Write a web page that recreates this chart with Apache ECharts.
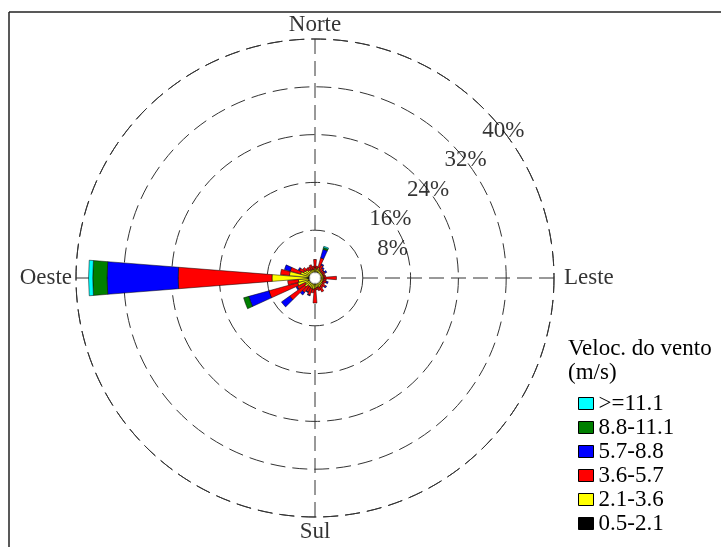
<!DOCTYPE html>
<html><head><meta charset="utf-8">
<script src="https://cdn.jsdelivr.net/npm/echarts@6/dist/echarts.min.js"></script>
<style>html,body{margin:0;padding:0;background:#fff}#c{width:721px;height:547px}</style>
</head><body><div id="c"></div>
<script>
// 36 wind directions (degrees, clockwise from north)
const directions = ['0','10','20','30','40','50','60','70','80','90','100','110','120','130','140','150','160','170',
  '180','190','200','210','220','230','240','250','260','270','280','290','300','310','320','330','340','350'];
// calm circle (%), drawn as hole at centre
const calm = [1,1,1,1,1,1,1,1,1,1,1,1,1,1,1,1,1,1,1,1,1,1,1,1,1,1,1,1,1,1,1,1,1,1,1,1];
// frequency (%) by speed class
const v05_21 = [0,0,0.1,0,0,0,0,0,0,0,0,0,0,0,0,0,0,0,0.1,0,0,0,0,0.1,0,0.2,0.1,0.3,0.1,0.1,0,0,0,0,0,0];
const v21_36 = [0.7,0.5,0.7,0.5,0.4,0.4,0.4,0.4,0.4,0.5,0.4,0.4,0.4,0.5,0.5,0.7,0.6,0.6,0.7,0.9,0.8,0.7,0.7,1.0,0.8,1.8,1.7,5.9,3.2,1.4,1.1,0.9,0.6,0.5,0.5,0.4];
const v36_57 = [1.4,0.5,1.7,0.9,0.6,0.4,0.5,0.3,0.4,2.1,0.5,0.6,0.4,0.7,0.5,0.9,0.6,0.4,2.4,0.6,1.2,0.9,1.3,3.1,1.5,5.0,1.8,15.7,1.5,1.8,0.8,0.6,0.5,0.6,0.8,0.6];
const v57_88 = [0,0,1.5,0.2,0.2,0.1,0.3,0,0,0,0,0.3,0,0.2,0,0,0,0,0,0,0.1,0.1,0.5,1.7,0.2,3.5,0,11.9,0,1.0,0.2,0,0,0,0,0];
const v88_111 = [0,0,0.3,0,0,0,0,0,0,0,0,0,0,0,0,0,0,0,0,0,0,0,0,0,0,0.9,0,2.4,0,0,0,0,0,0,0,0];
const v111 = [0,0,0.2,0,0,0,0,0,0,0,0,0,0,0,0,0,0,0,0,0,0,0,0,0,0,0,0,0.7,0,0,0,0,0,0,0,0];
const classNames = ['>=11.1','8.8-11.1','5.7-8.8','3.6-5.7','2.1-3.6','0.5-2.1'];
const classColors = ['#00ffff','#007f00','#0000ff','#ff0000','#ffff00','#000000'];
const ringTicks = [8,16,24,32,40];
const cardinalNames = ['Norte','Leste','Sul','Oeste'];
const cardinalAngles = [0,90,180,270];

const serif = "'Liberation Serif','Times New Roman',serif";
const chart = echarts.init(document.getElementById('c'), null, {renderer:'canvas'});
const classData = [v111, v88_111, v57_88, v36_57, v21_36, v05_21];
const order = [5,4,3,2,1,0]; // stack from inner (low speed) to outer
const barSeries = [{
  type:'bar', coordinateSystem:'polar', polarIndex:0, stack:'w', name:'calm', silent:true,
  data: calm, barCategoryGap:'10%', itemStyle:{color:'rgba(0,0,0,0)', borderWidth:0}
}];
order.forEach(i => {
  barSeries.push({
    type:'bar', coordinateSystem:'polar', polarIndex:0, stack:'w', name:classNames[i],
    data: classData[i].map(v => v > 0 ? v : '-'), barCategoryGap:'10%',
    itemStyle:{color:classColors[i], borderColor:'#000', borderWidth:0.5}
  });
});
const dash = [15,7];
const option = {
  animation:false,
  backgroundColor:'#fff',
  title:{text:'Veloc. do vento\n(m/s)', left:563, top:332,
    textStyle:{fontFamily:serif, fontSize:23, fontWeight:'normal', color:'#000', lineHeight:24}},
  legend:{data:classNames, orient:'vertical', left:573, top:387, itemWidth:15, itemHeight:12, itemGap:1,
    icon:'rect', textStyle:{fontFamily:serif, fontSize:23, color:'#000', lineHeight:23},
    itemStyle:{borderColor:'#000', borderWidth:1}},
  polar:[{center:[315,278], radius:239},{center:[315,278], radius:239}],
  angleAxis:[
    {polarIndex:0, type:'category', data:directions, startAngle:95, clockwise:true,
     axisLine:{show:false}, axisTick:{show:false}, axisLabel:{show:false}, splitLine:{show:false}},
    {polarIndex:1, type:'value', min:0, max:360, interval:90, startAngle:90, clockwise:true,
     axisLine:{show:true, lineStyle:{color:'#333', width:1, type:dash}}, axisTick:{show:false}, axisLabel:{show:false},
     splitLine:{show:true, lineStyle:{color:'#333', width:1, type:dash}}}
  ],
  radiusAxis:[
    {polarIndex:0, min:0, max:40, interval:8, axisLine:{show:false}, axisTick:{show:false}, axisLabel:{show:false},
     splitLine:{show:false}},
    {polarIndex:1, min:0, max:40, interval:8, axisLine:{show:false}, axisTick:{show:false}, axisLabel:{show:false},
     splitLine:{show:true, lineStyle:{color:'#333', width:1, type:dash}}}
  ],
  graphic:[
    {type:'line', shape:{x1:9, y1:12, x2:721, y2:12}, style:{stroke:'#222', lineWidth:1.5}, z:100},
    {type:'line', shape:{x1:9, y1:12, x2:9, y2:547}, style:{stroke:'#222', lineWidth:1.5}, z:100}
  ],
  series: barSeries.concat([
    {type:'scatter', coordinateSystem:'polar', polarIndex:1, silent:true, z:5,
     data:ringTicks.map((t,i)=>({value:[t,52], label:{offset: i===0 ? [40,0] : [0,0]}})),
     symbolSize:0,
     label:{show:true, position:'inside', formatter:p=>p.value[0]+'%', fontFamily:serif, fontSize:23, color:'#000'}},
    {type:'scatter', coordinateSystem:'polar', polarIndex:1, silent:true, z:5, symbolSize:0,
     data:cardinalNames.map((n,i)=>({name:n, value:[40,cardinalAngles[i]],
       label:{position:['top','right','bottom','left'][i], distance:[3,10,3,4][i]}})),
     label:{show:true, formatter:p=>p.name, fontFamily:serif, fontSize:23, color:'#000'}},
    {type:'scatter', coordinateSystem:'polar', polarIndex:1, silent:true, z:10, symbol:'circle', symbolSize:11,
     data:[[0,0]], itemStyle:{color:'#fff', borderColor:'#555', borderWidth:0.4}}
  ])
};
chart.setOption(option);
</script></body></html>
